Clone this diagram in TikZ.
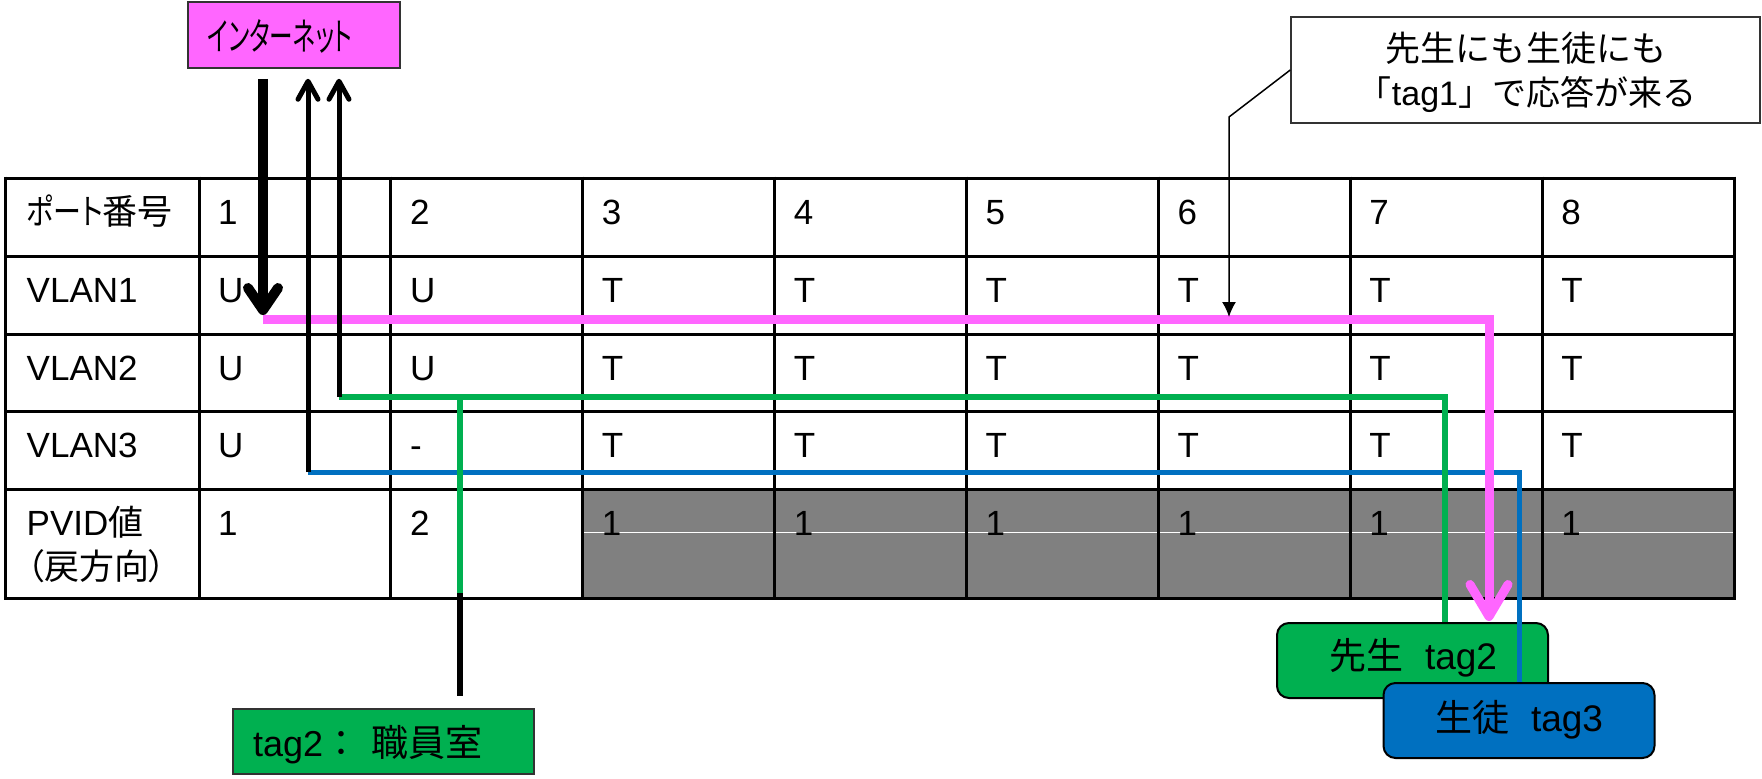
\documentclass[tikz,border=0pt]{standalone}
\usepackage{fontspec}
\setmainfont{Liberation Sans}
\newfontfamily\jp[RawFeature=+palt]{Noto Sans CJK JP}
\newfontfamily\jpf{Noto Sans CJK JP}
\newfontfamily\jpb[Scale=1.03]{Noto Sans CJK JP}
\newfontfamily\jpc[Scale=1.03]{Noto Sans CJK JP}
\usetikzlibrary{arrows.meta}
\definecolor{vpink}{HTML}{FF66FF}
\definecolor{vgreen}{HTML}{00B050}
\definecolor{vblue}{HTML}{0070C0}
\definecolor{vgray}{HTML}{808080}
\definecolor{edge}{HTML}{333333}
\begin{document}
\begin{tikzpicture}[x=1pt,y=-1pt,
  gridline/.style={line width=3pt,black},
  cell/.style={anchor=base west,inner sep=0pt,font=\fontsize{35}{44}\selectfont},
  inetbox/.style={draw=edge,line width=1.5pt,fill=vpink,minimum width=212pt,minimum height=66pt,inner sep=0pt},
  callbox/.style={draw=edge,line width=1.5pt,fill=white,minimum width=469pt,minimum height=106pt,inner sep=0pt},
  roombox/.style={draw=edge,line width=1.5pt,fill=vgreen,minimum width=301pt,minimum height=65pt,inner sep=0pt},
  tagbox/.style={draw=black,line width=2pt,rounded corners=12pt,minimum width=271pt,minimum height=75pt,inner sep=0pt},
  boxtext/.style={inner sep=0pt,anchor=base,font=\fontsize{37}{44}\selectfont},
  pinkline/.style={line width=9pt,vpink,-{Straight Barb[length=32pt,width=38pt,round]}},
  downarrow/.style={line width=10pt,black,-{Straight Barb[length=22pt,width=30pt,round]}},
  uparrow/.style={line width=5pt,black,-{Straight Barb[length=18pt,width=20pt,round]}},
  greenline/.style={line width=6pt,vgreen},
  blueline/.style={line width=5pt,vblue},
  blackline/.style={line width=6pt,black},
  callptr/.style={line width=1.5pt,black,-{Latex[length=15pt,width=14pt]}}
]
\useasboundingbox (0,0) rectangle (1762,779);

% ---- table ----
\fill[vgray] (582.75,489) rectangle (1734,598);
\draw[white,line width=1pt] (584,532) -- (1734,532);
\foreach \y in {178,256,334,411.5,489,598}
  \draw[gridline] (5.5,\y) -- (1734,\y);
\foreach \x in {5.5,199,390.875,582.75,774.625,966.5,1158.375,1350.25,1542.125,1734}
  \draw[gridline] (\x,176.5) -- (\x,599.5);

\node[cell] (h1) at (26.5,224) {\scalebox{0.8}[1]{\jp ポート}{\jp 番号}};
\node[cell] (h2) at (26.5,302) {VLAN1};
\node[cell] (h3) at (26.5,380) {VLAN2};
\node[cell] (h4) at (26.5,457.5) {VLAN3};
\node[cell] (h5) at (26.5,535) {PVID{\jp 値}};
\node[cell] (h6) at (26.5,579) {\jp （戻方向）};

\foreach \r/\yb/\vals in {1/224/{1,2,3,4,5,6,7,8},
                         2/302/{U,U,T,T,T,T,T,T},
                         3/380/{U,U,T,T,T,T,T,T},
                         4/457.5/{U,-,T,T,T,T,T,T},
                         5/535/{1,2,1,1,1,1,1,1}}{
  \foreach \v [count=\i] in \vals {
    \node[cell] (c-\r-\i) at ({199+(\i-1)*191.875+19},\yb) {\v};
  }
}

% ---- boxes ----
\node[inetbox] (inet) at (293.75,35) {};
\node[boxtext] (inettext) at (280,50) {\scalebox{0.62}[1]{\fontsize{38}{44}\jp インターネット}};

\node[callbox] (callout) at (1525.5,70) {};
\node[boxtext,font=\fontsize{34}{42}\selectfont] (callt1) at (1526,61) {\jpc 先生にも生徒にも};
\node[boxtext,font=\fontsize{34}{42}\selectfont] (callt2) at (1527,105) {{\jpf 「}tag1{\jpf 」で応答が来る}};

\node[roombox] (room) at (383.25,741.5) {};
\node[cell,font=\fontsize{36}{44}\selectfont] (roomtext) at (253,756) {tag2{\jpf ：}\hspace{12pt}{\jpb 職員室}};

\node[tagbox,fill=vgreen] (sensei) at (1412.5,660.5) {};
\node[boxtext] (senseitext) at (1413,669) {{\jpf 先生}\hspace{22pt}tag2};
\node[tagbox,fill=vblue] (seito) at (1519,720.5) {};
\node[boxtext] (seitotext) at (1519,731) {{\jpf 生徒}\hspace{22pt}tag3};

% ---- connectors ----
\coordinate (bstart) at (308,472);
\coordinate (gstart) at (339,397);
\coordinate (gbranch) at (460,397);
\coordinate (gknee) at (460,593);
\coordinate (pstart) at (263,319);
\coordinate (dtip) at (263,315);
\coordinate (cknee) at (1229,117);
\coordinate (ctip) at (1229,317);

\draw[blueline] (bstart) -| (seito.north);

\draw[greenline] (gstart) -| ([xshift=32.5pt]sensei.north);
\draw[greenline] (gbranch) -- (gknee);
\draw[blackline,shorten >=12pt] (gknee) -- (gknee |- room.north);

\draw[pinkline] (pstart) -| ([xshift=76.5pt,yshift=1pt]sensei.north);

\draw[uparrow,shorten >=10pt] (bstart) -- (bstart |- inet.south);
\draw[uparrow,shorten >=10pt] (gstart) -- (gstart |- inet.south);
\draw[downarrow,shorten <=10pt] (dtip |- inet.south) -- (dtip);

\draw[callptr] (callout.west) -- (cknee) -- (ctip);
\end{tikzpicture}
\end{document}
